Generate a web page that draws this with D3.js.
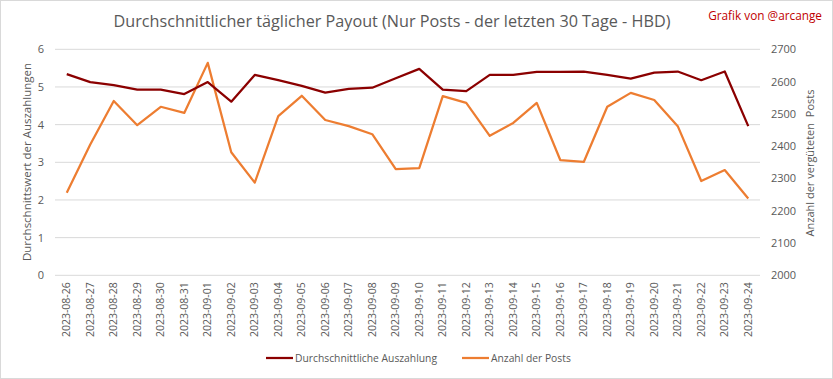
<!DOCTYPE html>
<html><head><meta charset="utf-8">
<script src="https://cdn.jsdelivr.net/npm/d3@7"></script>
<style>
html,body{margin:0;padding:0;background:#fff;}
svg{display:block;font-family:"Open Sans",sans-serif;}
</style></head>
<body>
<svg id="c" width="833" height="379"></svg>
<script>
const dates = ["2023-08-26","2023-08-27","2023-08-28","2023-08-29","2023-08-30","2023-08-31","2023-09-01","2023-09-02","2023-09-03","2023-09-04","2023-09-05","2023-09-06","2023-09-07","2023-09-08","2023-09-09","2023-09-10","2023-09-11","2023-09-12","2023-09-13","2023-09-14","2023-09-15","2023-09-16","2023-09-17","2023-09-18","2023-09-19","2023-09-20","2023-09-21","2023-09-22","2023-09-23","2023-09-24"];
const payout = [5.34,5.13,5.05,4.93,4.93,4.81,5.13,4.61,5.32,5.18,5.03,4.85,4.95,4.98,5.23,5.48,4.93,4.89,5.32,5.32,5.40,5.40,5.41,5.32,5.22,5.38,5.41,5.18,5.41,3.96];
const posts = [2256,2405,2540,2465,2522,2503,2658,2381,2287,2493,2556,2481,2462,2437,2329,2332,2555,2534,2432,2472,2534,2357,2351,2522,2565,2543,2462,2292,2326,2238];
const leftTicks = [0,1,2,3,4,5,6];
const rightTicks = [2000,2100,2200,2300,2400,2500,2600,2700];
const title = "Durchschnittlicher täglicher Payout (Nur Posts - der letzten 30 Tage - HBD)";
const credit = "Grafik von @arcange";
const leftLabel = "Durchschnittswert der Auszahlungen";
const rightLabel = "Anzahl der vergüteten  Posts";
const seriesNames = ["Durchschnittliche Auszahlung","Anzahl der Posts"];

const textCol = "#595959", gridCol = "#d9d9d9", c1 = "#8b0000", c2 = "#ed7d31";
const svg = d3.select("#c");
svg.append("rect").attr("x",0.5).attr("y",0.5).attr("width",832).attr("height",378)
  .attr("fill","#fff").attr("stroke","#d9d9d9");

const x0 = 55, x1 = 760, yTop = 49.3, yBot = 275.3;
const x = d3.scaleBand().domain(dates).range([x0,x1]);
const yL = d3.scaleLinear().domain([0,6]).range([yBot,yTop]);
const yR = d3.scaleLinear().domain([2000,2700]).range([yBot,yTop]);

// gridlines
svg.append("g").selectAll("line").data(leftTicks).join("line")
  .attr("x1",x0).attr("x2",x1).attr("y1",d=>yL(d)).attr("y2",d=>yL(d))
  .attr("stroke",gridCol).attr("stroke-width",1);

// left axis
const gl = svg.append("g").attr("transform",`translate(${x0},0)`)
  .call(d3.axisLeft(yL).tickValues(leftTicks).tickSize(0).tickPadding(11).tickFormat(d3.format("d")));
gl.select(".domain").remove();
gl.selectAll("text").attr("fill",textCol).style("font-size","11px").style("font-family","Open Sans");

// right axis
const gr = svg.append("g").attr("transform",`translate(${x1},0)`)
  .call(d3.axisRight(yR).tickValues(rightTicks).tickSize(0).tickPadding(11).tickFormat(d3.format("d")));
gr.select(".domain").remove();
gr.selectAll("text").attr("fill",textCol).style("font-size","11px").style("font-family","Open Sans");

// bottom axis
const gb = svg.append("g").attr("transform",`translate(0,${yBot})`)
  .call(d3.axisBottom(x).tickSize(0).tickPadding(0));
gb.select(".domain").remove();
gb.selectAll("text").attr("fill",textCol).style("font-size","10.5px").style("font-family","Open Sans")
  .attr("text-anchor","end").attr("dy","0.35em")
  .attr("transform","translate(0,7) rotate(-90)").attr("x",0).attr("y",0);

// lines
const line1 = d3.line().x((d,i)=>x(dates[i])+x.bandwidth()/2).y(d=>yL(d));
const line2 = d3.line().x((d,i)=>x(dates[i])+x.bandwidth()/2).y(d=>yR(d));
svg.append("path").datum(posts).attr("d",line2).attr("fill","none").attr("stroke",c2)
  .attr("stroke-width",2.25).attr("stroke-linejoin","round");
svg.append("path").datum(payout).attr("d",line1).attr("fill","none").attr("stroke",c1)
  .attr("stroke-width",2.25).attr("stroke-linejoin","round");

// title
svg.append("text").attr("x",392).attr("y",27).attr("text-anchor","middle")
  .attr("fill",textCol).style("font-size","16.2px").text(title);
svg.append("text").attr("x",822).attr("y",20).attr("text-anchor","end")
  .attr("fill","#c00000").style("font-size","11.8px").text(credit);

// axis titles
svg.append("text").attr("transform","translate(31,162) rotate(-90)").attr("text-anchor","middle")
  .attr("fill",textCol).style("font-size","11.5px").text(leftLabel);
svg.append("text").attr("transform","translate(814,163) rotate(-90)").attr("text-anchor","middle")
  .attr("fill",textCol).style("font-size","11px").style("white-space","pre").attr("xml:space","preserve").text(rightLabel);

// legend
const legX = [266,462];
const leg = svg.append("g").selectAll("g").data(seriesNames).join("g")
  .attr("transform",(d,i)=>`translate(${legX[i]},358)`);
leg.append("line").attr("x1",0).attr("x2",27).attr("y1",0).attr("y2",0)
  .attr("stroke",(d,i)=>i===0?c1:c2).attr("stroke-width",2.25);
leg.append("text").attr("x",29).attr("y",0).attr("dy","0.35em").attr("fill",textCol)
  .style("font-size","10.3px").text(d=>d);
</script>
</body></html>
